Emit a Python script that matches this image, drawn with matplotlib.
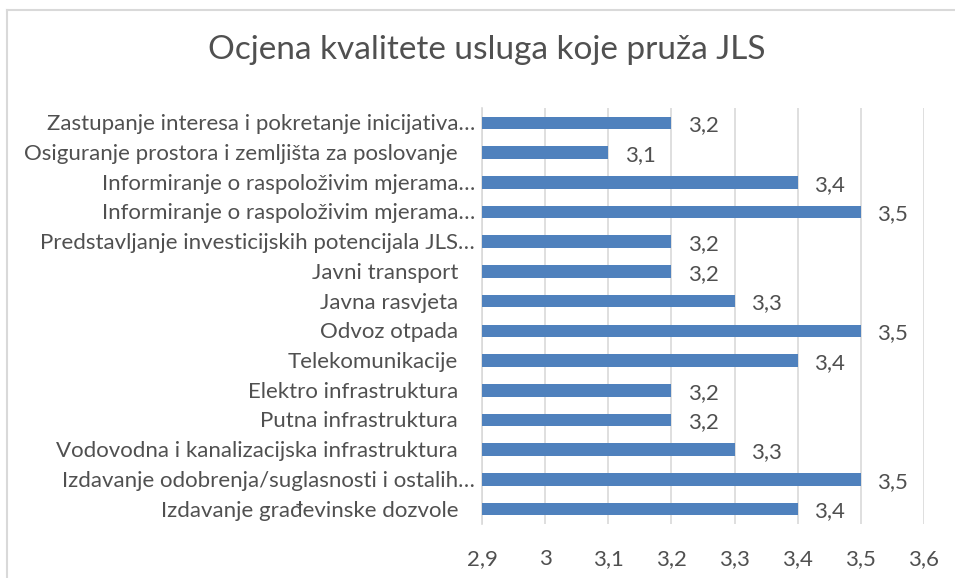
import matplotlib
matplotlib.use("Agg")
import matplotlib.pyplot as plt
from matplotlib.lines import Line2D
from matplotlib.ticker import FuncFormatter
from matplotlib.transforms import offset_copy

# data, top to bottom as in the chart
categories = [
    "Zastupanje interesa i pokretanje inicijativa…",
    "Osiguranje prostora i zemljišta za poslovanje",
    "Informiranje o raspoloživim mjerama…",
    "Informiranje o raspoloživim mjerama…",
    "Predstavljanje investicijskih potencijala JLS…",
    "Javni transport",
    "Javna rasvjeta",
    "Odvoz otpada",
    "Telekomunikacije",
    "Elektro infrastruktura",
    "Putna infrastruktura",
    "Vodovodna i kanalizacijska infrastruktura",
    "Izdavanje odobrenja/suglasnosti i ostalih…",
    "Izdavanje građevinske dozvole",
]
scores = [3.2, 3.1, 3.4, 3.5, 3.2, 3.2, 3.3, 3.5, 3.4, 3.2, 3.2, 3.3, 3.5, 3.4]
x_ticks = [2.9, 3.0, 3.1, 3.2, 3.3, 3.4, 3.5, 3.6]

title = "Ocjena kvalitete usluga koje pruža JLS"

bar_color = "#4F81BD"
text_color = "#505050"
grid_color = "#D9D9D9"

plt.rcParams['font.family'] = ['Lato', 'DejaVu Sans']


def comma(v, pos=None):
    s = f"{v:.1f}".replace(".", ",")
    if s.endswith(",0"):
        s = s[:-2]
    return s


fig = plt.figure(figsize=(9.55, 5.78), dpi=100)
ax = fig.add_axes([482 / 955, 1 - 524 / 578, (924 - 482) / 955, (524 - 108) / 578])

ypos = list(range(len(categories)))
ax.barh(ypos, [s - 2.9 for s in scores], left=2.9, height=0.42,
        color=bar_color, zorder=3)

for y, s in zip(ypos, scores):
    ax.text(s + 0.026, y + 0.08, comma(s), va="center", ha="left",
            fontsize=16, color=text_color)

ax.set_xlim(2.9, 3.6)
ax.set_ylim(len(categories) - 0.5, -0.5)
ax.set_xticks(x_ticks)
ax.xaxis.set_major_formatter(FuncFormatter(comma))
ax.set_yticks(ypos)
ax.set_yticklabels([])

# category labels: the untruncated ones sit a bit further left (as in Excel)
ytrans = ax.get_yaxis_transform()
for y, name in zip(ypos, categories):
    shift = -7 if name.endswith("…") else -24
    tr = offset_copy(ytrans, fig=fig, x=shift, y=0, units="dots")
    ax.text(0, y + 0.05, name, transform=tr, ha="right", va="center",
            fontsize=16, color=text_color)

ax.grid(axis="x", color=grid_color, linewidth=1.2, zorder=0)
for side in ["top", "right", "bottom"]:
    ax.spines[side].set_visible(False)
ax.spines["left"].set_color(grid_color)
ax.spines["left"].set_linewidth(1.2)

ax.tick_params(axis="y", length=0)
ax.tick_params(axis="x", length=0, pad=18, labelsize=16, labelcolor=text_color)

fig.text(0.51, 1 - 50 / 578, title, ha="center", va="center",
         fontsize=24, color=text_color)

# chart border (only top and left edges are visible)
fig.add_artist(Line2D([7 / 955, 1], [1 - 10 / 578, 1 - 10 / 578],
                      transform=fig.transFigure, color=grid_color, linewidth=1.5))
fig.add_artist(Line2D([7 / 955, 7 / 955], [0, 1 - 10 / 578],
                      transform=fig.transFigure, color=grid_color, linewidth=1.5))

fig.savefig("out.png", dpi=100)
